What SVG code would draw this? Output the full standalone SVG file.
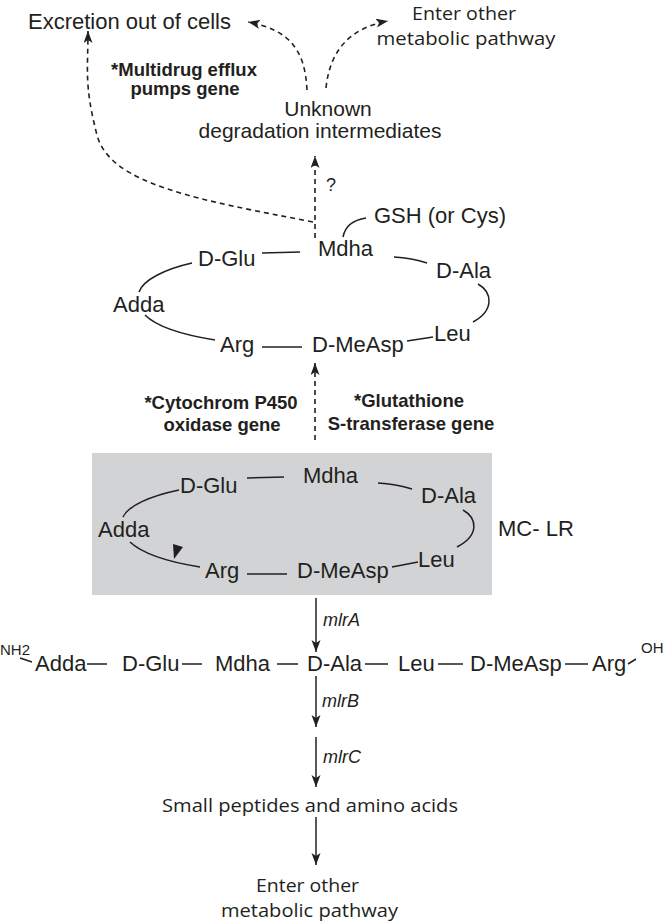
<svg xmlns="http://www.w3.org/2000/svg" width="666" height="923" viewBox="0 0 666 923">
<style>
text{font-family:"Liberation Sans",Arial,sans-serif;fill:#231f20}
.r{font-size:22px}
.m{font-family:"Open Sans","Noto Sans",sans-serif;font-size:18px}
.b{font-size:18.5px;font-weight:bold}
.i{font-size:18px;font-style:italic}
.s{font-size:15px}
.ln{fill:none;stroke:#231f20;stroke-width:1.5}
.d{fill:none;stroke:#231f20;stroke-width:1.6;stroke-dasharray:5 4}
</style>
<defs>
<marker id="ah" markerUnits="userSpaceOnUse" markerWidth="14" markerHeight="10" refX="12" refY="4.5" orient="auto">
<path d="M0,0 L12,4.5 L0,9 L3,4.5 z" fill="#231f20"/>
</marker>
</defs>
<rect id="box" x="92" y="453" width="400" height="142" fill="#d1d3d4"/>
<g id="top-labels">
<text id="excretion" class="r" x="28" y="29">Excretion out of cells</text>
<g id="enter-top"><text class="m" x="464" y="19.5" text-anchor="middle" textLength="104" lengthAdjust="spacingAndGlyphs">Enter other</text>
<text class="m" x="466" y="44.5" text-anchor="middle" textLength="179" lengthAdjust="spacingAndGlyphs">metabolic pathway</text></g>
<g id="multidrug"><text class="b" x="184" y="76" text-anchor="middle">*Multidrug efflux</text>
<text class="b" x="185" y="95" text-anchor="middle">pumps gene</text></g>
<g id="unknown"><text class="r" x="328" y="116" text-anchor="middle" style="font-size:21px">Unknown</text>
<text class="r" x="320" y="138" text-anchor="middle" style="font-size:21px">degradation intermediates</text></g>
<text id="q" x="326" y="191" style="font-size:18px">?</text>
</g>
<g id="ring1">
<text class="r" x="374" y="223">GSH (or Cys)</text>
<text class="r" x="318" y="256">Mdha</text>
<text class="r" x="198" y="266">D-Glu</text>
<text class="r" x="436" y="278">D-Ala</text>
<text class="r" x="434" y="341">Leu</text>
<text class="r" x="312" y="352">D-MeAsp</text>
<text class="r" x="220" y="352">Arg</text>
<text class="r" x="113" y="312">Adda</text>
</g>
<g id="genes">
<text class="b" x="221" y="409" text-anchor="middle">*Cytochrom P450</text>
<text class="b" x="222" y="431" text-anchor="middle">oxidase gene</text>
<text class="b" x="409" y="407" text-anchor="middle">*Glutathione</text>
<text class="b" x="411" y="430" text-anchor="middle">S-transferase gene</text>
</g>
<g id="ring2">
<text class="r" x="303" y="483">Mdha</text>
<text class="r" x="180" y="493">D-Glu</text>
<text class="r" x="421" y="503">D-Ala</text>
<text class="r" x="418" y="567">Leu</text>
<text class="r" x="297" y="578">D-MeAsp</text>
<text class="r" x="205" y="578">Arg</text>
<text class="r" x="98" y="537">Adda</text>
<polygon points="173,544 183,547 174,559" fill="#231f20"/>
</g>
<text id="mclr" class="r" x="498" y="536">MC- LR</text>
<g id="chain">
<text class="s" x="0" y="655">NH2</text>
<text class="r" x="35" y="671">Adda</text>
<text class="r" x="122" y="671">D-Glu</text>
<text class="r" x="215" y="671">Mdha</text>
<text class="r" x="307" y="671">D-Ala</text>
<text class="r" x="398" y="671">Leu</text>
<text class="r" x="470" y="671">D-MeAsp</text>
<text class="r" x="592" y="671">Arg</text>
<text class="s" x="641" y="653">OH</text>
</g>
<g id="enzymes">
<text class="i" x="323" y="626">mlrA</text>
<text class="i" x="322" y="707">mlrB</text>
<text class="i" x="323" y="763">mlrC</text>
</g>
<g id="bottom">
<text class="m" x="310" y="812" text-anchor="middle" textLength="296" lengthAdjust="spacingAndGlyphs">Small peptides and amino acids</text>
<text class="m" x="307.5" y="892" text-anchor="middle" textLength="103" lengthAdjust="spacingAndGlyphs">Enter other</text>
<text class="m" x="309.5" y="917" text-anchor="middle" textLength="177" lengthAdjust="spacingAndGlyphs">metabolic pathway</text>
</g>
<g id="connectors">
<path class="d" d="M307,90 C305,50 290,30 248,22" marker-end="url(#ah)"/>
<path class="d" d="M326,88 C330,50 350,28 388,21" marker-end="url(#ah)"/>
<path class="d" d="M313,222 C200,200 110,185 97,135 S88,70 88,31" marker-end="url(#ah)"/>
<path class="d" d="M315,238 L315,156" marker-end="url(#ah)"/>
<path class="d" d="M315,440 L315,363" marker-end="url(#ah)"/>
<path class="ln" d="M366,218 Q346,221 343,237"/>
<path class="ln" d="M262,253 L300,252"/>
<path class="ln" d="M394,257 Q412,258 427,263"/>
<path class="ln" d="M478,284 C492,292 495,310 473,322"/>
<path class="ln" d="M433,337 L407,341"/>
<path class="ln" d="M262,347 L302,347"/>
<path class="ln" d="M192,263 C165,269 143,280 139,292"/>
<path class="ln" d="M145,315 C158,328 190,336 215,340"/>
<path class="ln" d="M247,478 L284,477"/>
<path class="ln" d="M378,483 Q396,484 412,489"/>
<path class="ln" d="M463,510 C477,518 480,535 457,547"/>
<path class="ln" d="M418,562 L392,567"/>
<path class="ln" d="M247,574 L287,574"/>
<path class="ln" d="M179,490 C150,496 128,506 123,517"/>
<path class="ln" d="M130,542 C145,556 175,563 200,567"/>
<path class="ln" d="M20,658 L32,662"/>
<path class="ln" d="M87,664 L107,664 M182,664 L202,664 M277,664 L298,664 M365,664 L388,664 M438,664 L463,664 M565,664 L588,664"/>
<path class="ln" d="M628,664 L636,659"/>
<path class="ln" d="M316,598 L316,652" marker-end="url(#ah)"/>
<path class="ln" d="M316,676 L316,727" marker-end="url(#ah)"/>
<path class="ln" d="M316,737 L316,787" marker-end="url(#ah)"/>
<path class="ln" d="M316,817 L316,865" marker-end="url(#ah)"/>
</g>
</svg>
